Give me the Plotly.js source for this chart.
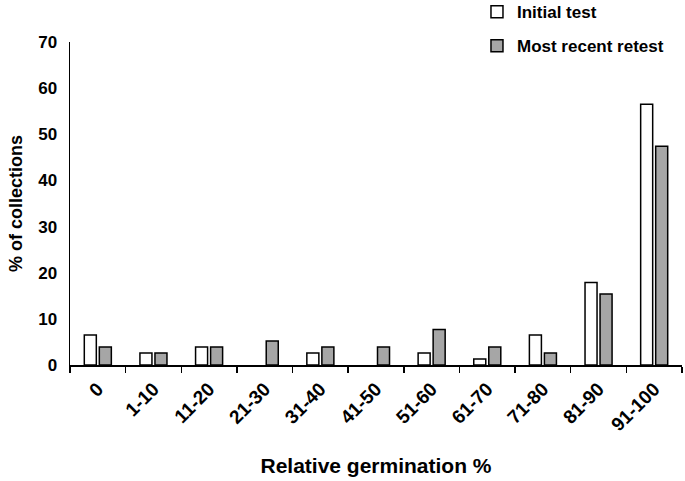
<!DOCTYPE html>
<html>
<head>
<meta charset="utf-8">
<script src="https://cdn.plot.ly/plotly-3.0.1.min.js"></script>
<style>html,body{margin:0;padding:0;background:#fff;}#chart{width:685px;height:481px;}</style>
</head>
<body>
<div id="chart"></div>
<script>
const categories = ["0","1-10","11-20","21-30","31-40","41-50","51-60","61-70","71-80","81-90","91-100"];
const initialTest = [6.5, 2.6, 3.9, 0, 2.6, 0, 2.6, 1.3, 6.5, 17.9, 56.5];
const recentRetest = [3.9, 2.6, 3.9, 5.2, 3.9, 3.9, 7.7, 3.9, 2.6, 15.4, 47.4];
const yTicks = [0, 10, 20, 30, 40, 50, 60, 70];

const font = {family: "Liberation Sans, Arial, sans-serif", color: "#000"};
const edge = vals => vals.map(v => v === 0 ? 0 : 1.5);
const traces = [
  {type: "bar", name: "<b>Initial test</b>", x: categories, y: initialTest,
   marker: {color: "#ffffff", line: {color: "#000", width: edge(initialTest)}}, legend: "legend"},
  {type: "bar", name: "<b>Most recent retest</b>", x: categories, y: recentRetest,
   marker: {color: "#a6a6a6", line: {color: "#000", width: edge(recentRetest)}}, legend: "legend2"}
];
const legendBase = {font: Object.assign({}, font, {size: 17}), bgcolor: "rgba(0,0,0,0)",
  xanchor: "left", yanchor: "middle", itemwidth: 30};
const layout = {
  width: 685, height: 481,
  margin: {l: 70, r: 3, t: 42, b: 116, autoexpand: false},
  paper_bgcolor: "#fff", plot_bgcolor: "#fff",
  font: font,
  barmode: "group", bargap: 0.46, bargroupgap: 0.2,
  showlegend: true,
  legend: Object.assign({}, legendBase, {x: 0.665, y: 1.092}),
  legend2: Object.assign({}, legendBase, {x: 0.665, y: 0.987}),
  xaxis: {
    type: "category", tickson: "boundaries", ticks: "outside", ticklen: 6, tickwidth: 1.5,
    tickcolor: "#000", showline: true, linecolor: "#000", linewidth: 1.5,
    tickangle: -45, tickfont: Object.assign({}, font, {size: 19, weight: "bold"}),
    ticklabelstandoff: 4,
    title: {text: "<b>Relative germination %</b>", font: Object.assign({}, font, {size: 21}), standoff: 24},
    showgrid: false, zeroline: false, automargin: false
  },
  yaxis: {
    range: [0, 70], tickvals: yTicks, ticktext: yTicks.map(v => "<b>" + v + "</b>"),
    tickfont: Object.assign({}, font, {size: 17}),
    showline: true, linecolor: "#000", linewidth: 1.5, ticks: "", ticklabelstandoff: 8,
    title: {text: "<b>% of collections</b>", font: Object.assign({}, font, {size: 18}), standoff: 11},
    showgrid: false, zeroline: false, automargin: false
  }
};
Plotly.newPlot("chart", traces, layout, {displayModeBar: false, staticPlot: true});
</script>
</body>
</html>
